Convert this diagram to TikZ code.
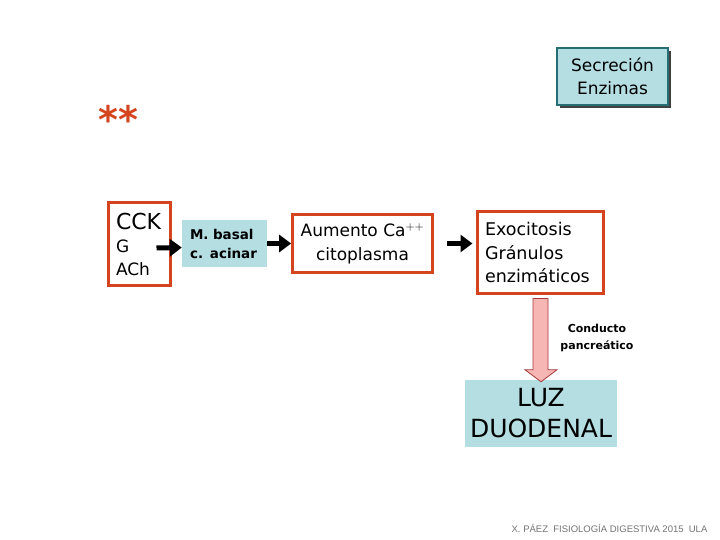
\documentclass[tikz,border=0pt]{standalone}
\usepackage{fontspec}
\setmainfont{DejaVu Sans}
\newfontfamily\footfont{Liberation Sans}
\usetikzlibrary{arrows.meta,calc,shadows}
\definecolor{rojo}{RGB}{212,68,30}
\definecolor{celeste}{RGB}{181,222,227}
\definecolor{verdeazul}{RGB}{38,110,116}
\definecolor{rosa}{RGB}{246,182,180}
\definecolor{granate}{RGB}{165,55,55}
\begin{document}
\begin{tikzpicture}[
  x=1pt, y=-1pt,
  caja/.style={draw=rojo, line width=3pt, fill=white, inner sep=0pt, inner xsep=8pt},
  celda/.style={fill=celeste, inner sep=0pt, inner xsep=8pt},
  flecha/.style={draw=black, line width=5pt, -{Triangle[length=12pt,width=17pt]}},
  tubo/.style={draw=granate, line width=0.8pt, fill=rosa}
]
\useasboundingbox (0,0) rectangle (720,540);
\node[font=\bfseries\fontsize{38}{38}\selectfont, text=rojo] (stars) at (118,119) {**};
\node[caja, minimum width=62, minimum height=82, text width=46, align=left,
      font=\fontsize{17}{23}\selectfont] (cck) at (139,244)
  {{\fontsize{22}{22}\selectfont CCK}\\G\\ACh};
\node[celda, minimum width=85, minimum height=47, text width=69, align=left,
      font=\bfseries\fontsize{13.5}{19}\selectfont] (basal) at (224.5,243.5) {M. basal\\c. acinar};
\node[caja, minimum width=139, minimum height=57, align=center,
      font=\fontsize{17}{24}\selectfont] (calcio) at (362.5,243.5) {Aumento Ca$^{++}$\\citoplasma};
\node[caja, minimum width=126, minimum height=81, text width=110, align=left,
      font=\fontsize{17.5}{23.5}\selectfont] (exo) at (540,252.5) {Exocitosis\\Gránulos\\enzimáticos};
\node[celda, draw=verdeazul, line width=2.6pt, minimum width=111, minimum height=57, align=center,
      drop shadow={shadow xshift=3pt, shadow yshift=-3pt, fill=black!75, opacity=1},
      font=\fontsize{17}{23}\selectfont] (secrecion) at (612.5,76.5) {Secreción\\Enzimas};
\node[celda, inner xsep=2pt, minimum width=152, minimum height=67, align=center,
      font=\fontsize{25}{31}\selectfont] (luz) at (541,413.5) {LUZ\\DUODENAL};
\node[align=center, font=\bfseries\fontsize{11}{17}\selectfont] (conducto) at (597,338) {Conducto\\pancreático};
\node[font=\footfont\fontsize{9.5}{9.5}\selectfont, text=black!55] (pie) at (609.5,528)
  {X. PÁEZ \ FISIOLOGÍA DIGESTIVA 2015 \ ULA};
\draw[flecha] ($(cck.east)+(-15,4)$) -- ($(basal.west)+(0,4)$);
\draw[flecha] (basal.east) -- (calcio.west);
\draw[flecha, shorten <=13pt, shorten >=3pt] (calcio.east) -- (calcio.east -| exo.west);
\draw[tubo] ($(exo.south)+(-7,4)$) -- ($(luz.north)+(-8,-10)$) -- ($(luz.north)+(-16,-10)$)
  -- ($(luz.north)+(0,2)$) -- ($(luz.north)+(16,-10)$) -- ($(luz.north)+(7,-10)$)
  -- ($(exo.south)+(8,4)$) -- cycle;
\end{tikzpicture}
\end{document}
